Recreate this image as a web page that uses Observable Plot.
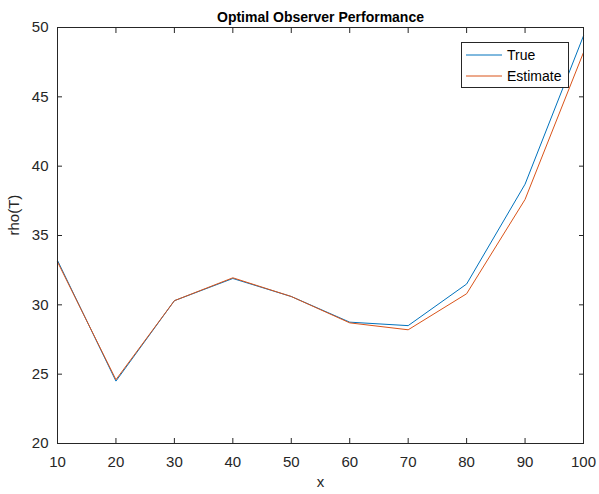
<!DOCTYPE html>
<html>
<head>
<meta charset="utf-8">
<script src="https://cdn.jsdelivr.net/npm/d3@7"></script>
<script src="https://cdn.jsdelivr.net/npm/@observablehq/plot@0.6"></script>
<style>
  html, body { margin: 0; padding: 0; background: #fff; }
  #wrap { position: relative; width: 599px; height: 494px; font-family: "Liberation Sans", Arial, sans-serif; }
  #legend { position: absolute; left: 461px; top: 42px; width: 108px; height: 46px; border: 1px solid #262626; background: #fff; box-sizing: border-box; font-size: 14px; color: #000; }
  .row { position: absolute; left: 0; height: 20px; display: flex; align-items: center; }
  .row svg { margin-left: 4px; margin-right: 5px; }
</style>
</head>
<body>
<div id="wrap"></div>
<script>
const xValues = [10, 20, 30, 40, 50, 60, 70, 80, 90, 100];
const trueValues = [33.2, 24.5, 30.3, 31.9, 30.6, 28.75, 28.5, 31.5, 38.7, 49.4];
const estimateValues = [33.1, 24.6, 30.3, 31.95, 30.6, 28.7, 28.2, 30.8, 37.6, 48.2];
const xTicks = [10, 20, 30, 40, 50, 60, 70, 80, 90, 100];
const yTicks = [20, 25, 30, 35, 40, 45, 50];
const seriesNames = ["True", "Estimate"];
const seriesColors = ["#0072BD", "#D95319"];
const titleText = "Optimal Observer Performance";
const xLabel = "x";
const yLabel = "rho(T)";

const rows = [];
xValues.forEach((x, i) => {
  rows.push({x, y: trueValues[i], s: seriesNames[0]});
  rows.push({x, y: estimateValues[i], s: seriesNames[1]});
});

const axisColor = "#262626";
const chart = Plot.plot({
  width: 599,
  height: 494,
  marginLeft: 57,
  marginRight: 16,
  marginTop: 27,
  marginBottom: 51,
  style: {fontFamily: "Liberation Sans, Arial, sans-serif", fontSize: "15px", color: axisColor, background: "#fff"},
  x: {domain: [10, 100]},
  y: {domain: [20, 50]},
  color: {domain: seriesNames, range: seriesColors},
  marks: [
    Plot.line(rows, {x: "x", y: "y", z: "s", stroke: "s", strokeWidth: 1}),
    Plot.frame({stroke: axisColor, strokeWidth: 1}),
    Plot.axisX({ticks: xTicks, anchor: "bottom", tickSize: 0, tickPadding: 13, label: null, fill: axisColor, fontSize: 15}),
    Plot.axisY({ticks: yTicks, anchor: "left", tickSize: 0, tickPadding: 9, label: null, fill: axisColor, fontSize: 15}),
    Plot.axisX({ticks: xTicks, anchor: "bottom", tickSize: 5, text: null, label: null, dy: -5, stroke: axisColor}),
    Plot.axisX({ticks: xTicks, anchor: "top", tickSize: 5, text: null, label: null, dy: 5, stroke: axisColor}),
    Plot.axisY({ticks: yTicks, anchor: "left", tickSize: 5, text: null, label: null, dx: 5, stroke: axisColor}),
    Plot.axisY({ticks: yTicks, anchor: "right", tickSize: 5, text: null, label: null, dx: -5, stroke: axisColor}),
    Plot.text([titleText], {frameAnchor: "top", dy: -15, text: d => d, fontWeight: "bold", fontSize: 14, fill: "#000"}),
    Plot.text([xLabel], {frameAnchor: "bottom", dy: 43, text: d => d, fontSize: 15, fill: axisColor}),
    Plot.text([yLabel], {frameAnchor: "left", dx: -43, rotate: -90, text: d => d, fontSize: 15, fill: axisColor})
  ]
});
const wrap = document.getElementById("wrap");
wrap.appendChild(chart);

const legend = document.createElement("div");
legend.id = "legend";
seriesNames.forEach((name, i) => {
  const row = document.createElement("div");
  row.className = "row";
  row.style.top = (i === 0 ? 2 : 23) + "px";
  row.innerHTML = `<svg width="36" height="4"><line x1="0" x2="36" y1="2" y2="2" stroke="${seriesColors[i]}" stroke-width="1"/></svg><span>${name}</span>`;
  legend.appendChild(row);
});
wrap.appendChild(legend);
</script>
</body>
</html>
